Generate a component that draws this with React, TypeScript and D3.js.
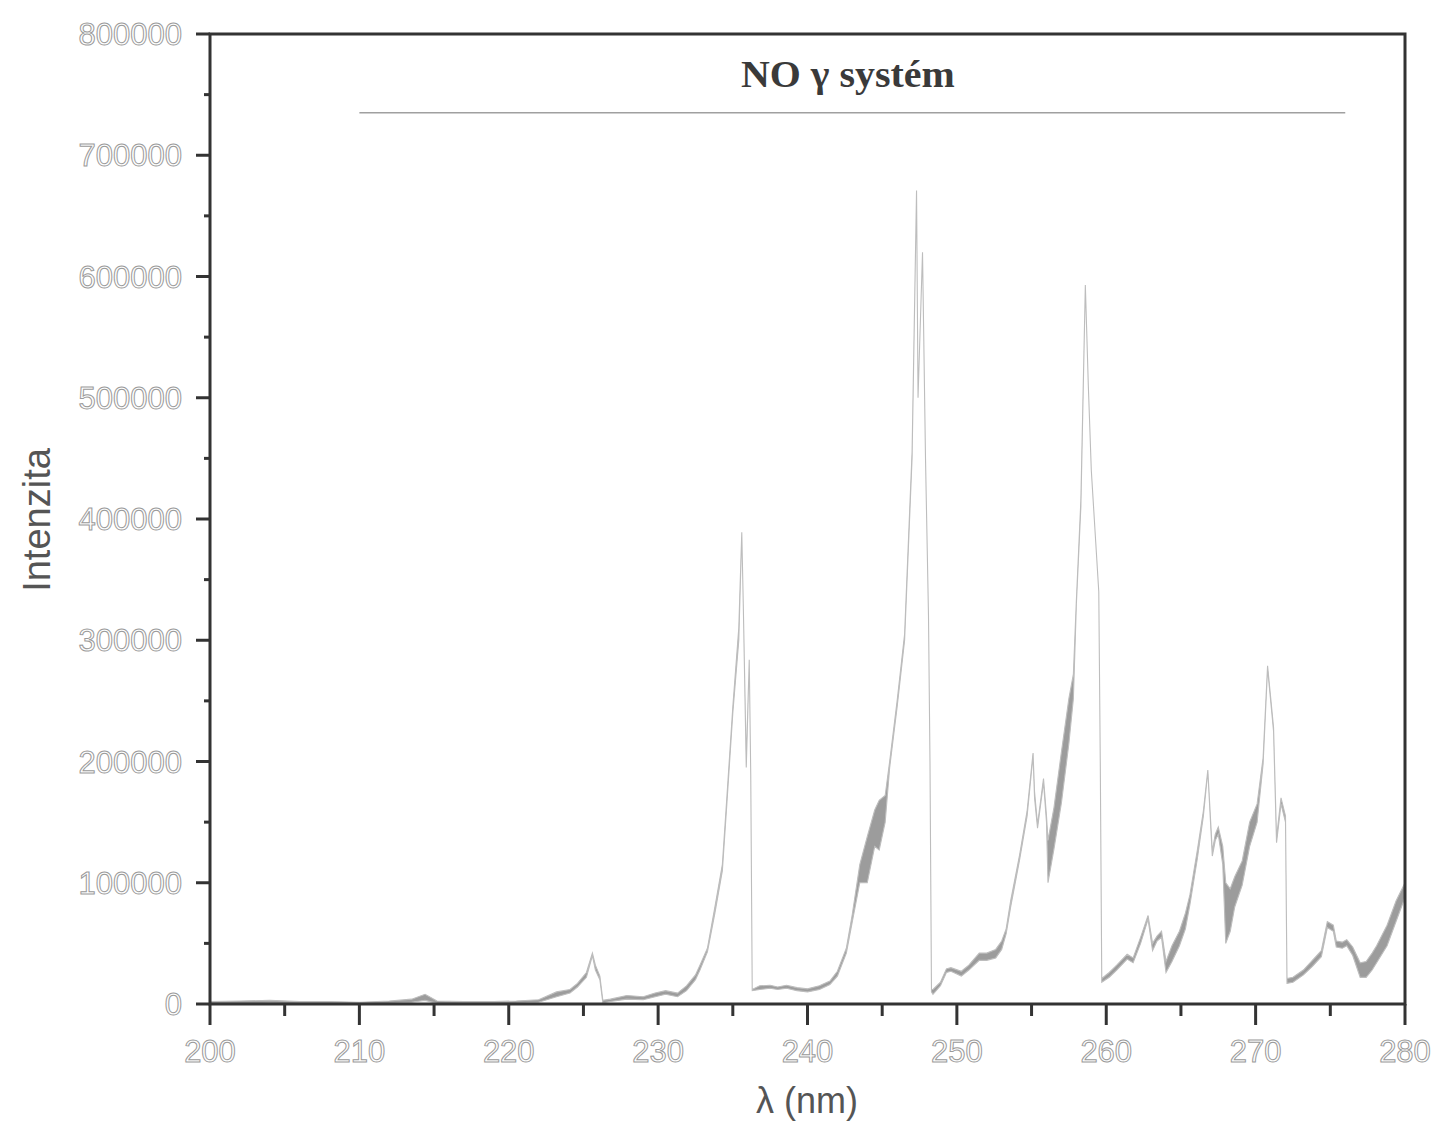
import React from "react";
import * as d3 from "d3";

// Spectrum: wavelength (nm), lower and upper envelope of the noisy trace
const wavelength = [
  200.0, 202.0, 204.0, 206.0, 208.0, 210.0, 212.0, 213.5, 214.4, 215.2, 217.0, 219.0, 220.5, 222.0,
  223.2, 224.1, 224.6, 225.2, 225.6, 225.8, 226.1, 226.3, 226.8, 227.9, 229.0, 229.8, 230.5, 231.3,
  231.9, 232.5, 232.8, 233.3, 233.8, 234.3, 234.6, 235.0, 235.4, 235.6, 235.7, 235.9, 236.1, 236.2,
  236.3, 236.8, 237.5, 238.0, 238.6, 239.3, 240.0, 240.8, 241.5, 242.0, 242.6, 243.0, 243.5, 244.0,
  244.5, 244.8, 245.2, 245.5, 246.0, 246.5, 247.0, 247.3, 247.4, 247.7, 247.9, 248.1, 248.2, 248.3,
  248.4, 248.9, 249.3, 249.6, 250.3, 250.8, 251.5, 252.0, 252.6, 253.0, 253.3, 253.6, 254.2, 254.7,
  255.1, 255.2, 255.4, 255.8, 256.0, 256.1, 256.5, 257.0, 257.5, 257.8, 258.0, 258.3, 258.6, 258.8,
  259.0, 259.3, 259.5, 259.6, 259.7, 260.2, 260.7, 261.4, 261.8, 262.3, 262.8, 263.1, 263.4, 263.7,
  264.0, 264.4, 264.9, 265.3, 265.6, 266.1, 266.5, 266.8, 267.1, 267.3, 267.5, 267.8, 268.0, 268.3,
  268.6, 269.1, 269.6, 270.1, 270.5, 270.8, 271.2, 271.4, 271.7, 272.0, 272.1, 272.5, 273.2, 273.8,
  274.4, 274.8, 275.2, 275.4, 275.8, 276.1, 276.5, 277.0, 277.4, 277.8, 278.1, 278.8, 279.4, 280.0,
];
const intensityLow = [
  0, 0, 500, 0, 0, 0, 500, 1500, 3000, 500, 0, 0, 500, 1500,
  6000, 9000, 14000, 22000, 40000, 28000, 20000, 1000, 2000, 4000, 3500, 6000, 8000, 6000,
  11000, 20000, 28000, 43000, 75000, 110000, 165000, 240000, 300000, 389000, 330000, 195000, 284000, 190000,
  11000, 12000, 13000, 12000, 13000, 11000, 10000, 12000, 16000, 23000, 42000, 68000, 100000, 100000,
  130000, 127000, 150000, 195000, 245000, 300000, 450000, 671000, 500000, 620000, 450000, 320000, 200000, 10000,
  8000, 15000, 26000, 27000, 23000, 28000, 36000, 36000, 38000, 45000, 58000, 80000, 119000, 155000,
  205000, 170000, 145000, 183000, 150000, 100000, 128000, 166000, 215000, 252000, 330000, 410000, 593000, 510000,
  440000, 380000, 340000, 200000, 18000, 22000, 28000, 37000, 34000, 50000, 70000, 44000, 52000, 55000,
  26000, 35000, 48000, 62000, 82000, 120000, 155000, 192000, 122000, 135000, 140000, 115000, 50000, 60000,
  80000, 98000, 130000, 150000, 198000, 277000, 225000, 133000, 165000, 150000, 17000, 18000, 24000, 31000,
  39000, 63000, 60000, 47000, 46000, 48000, 40000, 22000, 22000, 28000, 34000, 48000, 68000, 88000,
];
const intensityHigh = [
  2000, 2500, 3000, 2000, 2000, 1500, 2500, 4000, 8000, 2500, 2000, 2000, 2500, 3500,
  10000, 12000, 17000, 26000, 42000, 32000, 23000, 3000, 4000, 7000, 6000, 9000, 11000, 9000,
  15000, 24000, 32000, 46000, 80000, 115000, 170000, 245000, 310000, 389000, 330000, 200000, 284000, 190000,
  12000, 15000, 15500, 14000, 15500, 13500, 12500, 15000, 19000, 27000, 46000, 74000, 115000, 138000,
  160000, 168000, 172000, 200000, 250000, 305000, 455000, 671000, 500000, 620000, 450000, 320000, 200000, 12000,
  12000, 18000, 29000, 30000, 27000, 32000, 42000, 42000, 45000, 52000, 62000, 85000, 123000, 159000,
  207000, 175000, 148000, 186000, 155000, 135000, 162000, 208000, 252000, 272000, 333000, 415000, 593000, 510000,
  440000, 380000, 340000, 200000, 21000, 26000, 32000, 41000, 38000, 55000, 73000, 50000, 56000, 60000,
  35000, 48000, 60000, 75000, 90000, 127000, 159000, 193000, 126000, 140000, 146000, 130000, 100000, 95000,
  105000, 118000, 150000, 165000, 203000, 279000, 228000, 137000, 170000, 155000, 21000, 22000, 28000, 36000,
  44000, 68000, 65000, 52000, 51000, 53000, 47000, 34000, 35000, 42000, 48000, 65000, 85000, 100000,
];

// Axis ticks
const xTicks = [200, 210, 220, 230, 240, 250, 260, 270, 280];
const xMinorTicks = [205, 215, 225, 235, 245, 255, 265, 275];
const yTicks = [0, 100000, 200000, 300000, 400000, 500000, 600000, 700000, 800000];
const yMinorTicks = [50000, 150000, 250000, 350000, 450000, 550000, 650000, 750000];

// Title annotation and its underline (nm range, intensity level)
const titleText = "NO γ systém";
const titlePosition = 242.7;
const titleLineRange = [210, 276];
const titleLineLevel = 735000;

export default function App() {
  const left = 210, right = 1405, top = 34, bottom = 1004;
  const x = d3.scaleLinear().domain([200, 280]).range([left, right]);
  const y = d3.scaleLinear().domain([0, 800000]).range([bottom, top]);

  const idx = wavelength.map((_, i) => i);
  const area = d3
    .area<number>()
    .x((i) => x(wavelength[i]))
    .y0((i) => y(intensityLow[i]))
    .y1((i) => y(intensityHigh[i]));
  const areaPath = area(idx) || "";

  const tickFont = "'Liberation Sans', Arial, sans-serif";
  const axisColor = "#333";

  return (
    <svg
      width={1437}
      height={1138}
      style={{ position: "absolute", left: 0, top: 0, background: "#fff" }}
    >
      <rect x={0} y={0} width={1437} height={1138} fill="#fff" />

      {/* spectrum */}
      <path d={areaPath} fill="#9c9c9c" stroke="#bdbdbd" strokeWidth={1.1} />

      {/* title and underline */}
      <text
        x={x(titlePosition)}
        y={87}
        textAnchor="middle"
        fontFamily="'Liberation Serif', 'Times New Roman', serif"
        fontWeight="bold"
        fontSize={38}
        fill="#3a3a3a"
        transform={`translate(${x(titlePosition)}, 0) scale(1.05, 1) translate(${-x(titlePosition)}, 0)`}
      >
        {titleText}
      </text>
      <line
        x1={x(titleLineRange[0])}
        x2={x(titleLineRange[1])}
        y1={y(titleLineLevel)}
        y2={y(titleLineLevel)}
        stroke="#a0a0a0"
        strokeWidth={1.5}
      />

      {/* frame */}
      <rect
        x={left}
        y={top}
        width={right - left}
        height={bottom - top}
        fill="none"
        stroke={axisColor}
        strokeWidth={3}
      />

      {/* y ticks */}
      {yTicks.map((t) => (
        <g key={"y" + t}>
          <line x1={left - 14} x2={left} y1={y(t)} y2={y(t)} stroke={axisColor} strokeWidth={3} />
          <text
            x={182}
            y={y(t) + 11}
            textAnchor="end"
            fontFamily={tickFont}
            fontSize={31}
            fill="#fff"
            stroke="#9a9a9a"
            strokeWidth={1}
          >
            {t}
          </text>
        </g>
      ))}
      {yMinorTicks.map((t) => (
        <line key={"ym" + t} x1={left - 6} x2={left} y1={y(t)} y2={y(t)} stroke={axisColor} strokeWidth={3} />
      ))}

      {/* x ticks */}
      {xTicks.map((t) => (
        <g key={"x" + t}>
          <line x1={x(t)} x2={x(t)} y1={bottom} y2={bottom + 21} stroke={axisColor} strokeWidth={3} />
          <text
            x={x(t)}
            y={1062}
            textAnchor="middle"
            fontFamily={tickFont}
            fontSize={31}
            fill="#fff"
            stroke="#9a9a9a"
            strokeWidth={1}
          >
            {t}
          </text>
        </g>
      ))}
      {xMinorTicks.map((t) => (
        <line key={"xm" + t} x1={x(t)} x2={x(t)} y1={bottom} y2={bottom + 12} stroke={axisColor} strokeWidth={3} />
      ))}

      {/* axis titles */}
      <text
        transform={`translate(50, ${(top + bottom) / 2 + 1}) rotate(-90)`}
        textAnchor="middle"
        fontFamily={tickFont}
        fontSize={38}
        fill="#555"
      >
        Intenzita
      </text>
      <text
        x={807}
        y={1113}
        textAnchor="middle"
        fontFamily={tickFont}
        fontSize={36}
        fill="#555"
      >
        λ (nm)
      </text>
    </svg>
  );
}
